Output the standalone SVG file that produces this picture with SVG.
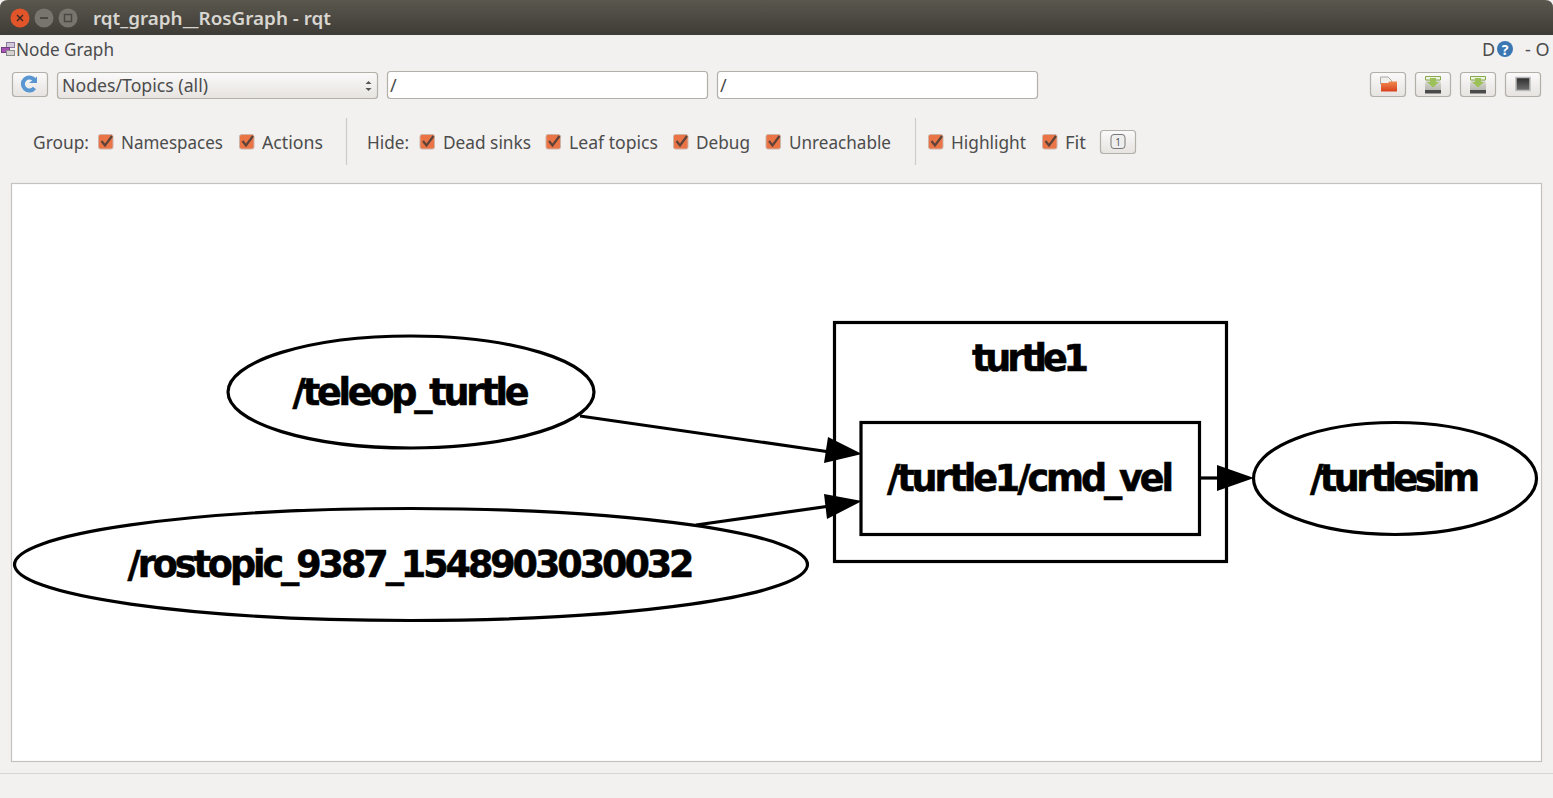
<svg xmlns="http://www.w3.org/2000/svg" width="1553" height="798" viewBox="0 0 1553 798">
<style>
.ui{font-family:"Noto Sans","Open Sans",sans-serif;font-size:18px;fill:#4c4c4c}
.g{font-family:"DejaVu Sans",sans-serif;font-size:36.500px;font-weight:bold;fill:#000;stroke:#000;stroke-width:0.6;text-anchor:middle}
.shape{fill:none;stroke:#000;stroke-width:3.2}
.edge{fill:none;stroke:#000;stroke-width:3.2}
.btn{fill:url(#btnG);stroke:#b3afa9;stroke-width:1.2}
.field{fill:#fff;stroke:#b3afa9;stroke-width:1.2}
.cb{fill:#ea7446;stroke:#cdb5a8;stroke-width:1}
.ck{fill:none;stroke:#5c4238;stroke-width:2.2}
.sep{stroke:#d0cdc8;stroke-width:1.2}
.arrow{fill:#000}
</style>
<defs>
<linearGradient id="title" x1="0" y1="0" x2="0" y2="1"><stop offset="0" stop-color="#5a574e"/><stop offset="1" stop-color="#3e3c36"/></linearGradient>
<linearGradient id="btnG" x1="0" y1="0" x2="0" y2="1"><stop offset="0" stop-color="#fbfafa"/><stop offset="1" stop-color="#e6e3e0"/></linearGradient>
<linearGradient id="drive" x1="0" y1="0" x2="0" y2="1"><stop offset="0" stop-color="#e4e6dc"/><stop offset="1" stop-color="#b4b4ae"/></linearGradient>
<linearGradient id="folder" x1="0" y1="0" x2="0" y2="1"><stop offset="0" stop-color="#f08a50"/><stop offset="1" stop-color="#d8401c"/></linearGradient>
<linearGradient id="screen" x1="0" y1="0" x2="0" y2="1"><stop offset="0" stop-color="#2c2c2c"/><stop offset="1" stop-color="#707070"/></linearGradient>
<g id="cbx"><rect class="cb" x="0" y="0" width="14.500" height="14.500" rx="2"/><path class="ck" d="M3 6.500L6.500 11L13.500 1.500"/></g>
<g id="save"><path d="M0 8L2 1H14L16 8V15H0Z" fill="url(#drive)"/><path d="M.5 .5H15.500V4H.5Z" fill="#eef2e0" stroke="#86aa4c" stroke-width="1"/><path d="M5 2H11V6H14L8 11.500L2 6H5Z" fill="#9cc158"/><rect x="0" y="14" width="16" height="3.500" fill="#4a4a4a"/></g>
</defs>

<rect id="background" width="1553" height="798" fill="#f2f1f0"/>

<g id="titlebar">
<path d="M0 35V8Q0 0 8 0H1545Q1553 0 1553 8V35Z" fill="url(#title)"/>
<circle cx="20" cy="18" r="9.500" fill="#e2552a"/><path d="M17 15L23 21M23 15L17 21" stroke="#3c2a20" stroke-width="1.500"/>
<circle cx="44" cy="18" r="9.500" fill="#77756d"/><rect x="40" y="17" width="8" height="2" fill="#4a4842"/>
<circle cx="68" cy="18" r="9.500" fill="#77756d"/><rect x="64.500" y="14.500" width="7" height="7" fill="none" stroke="#4a4842" stroke-width="1.500"/>
<text x="93" y="25" font-family="Noto Sans, Open Sans, sans-serif" font-size="18" font-weight="600" fill="#d8d6d0" textLength="238" lengthAdjust="spacingAndGlyphs">rqt_graph__RosGraph - rqt</text>
</g>

<g id="menu">
<rect x="6.500" y="42.500" width="8" height="5" fill="#d2c8da" stroke="#8a7aa0" stroke-width="1"/>
<rect x="1.500" y="47.500" width="8" height="5" fill="#a552b0" stroke="#73407f" stroke-width="1"/>
<rect x="6.500" y="50.500" width="8" height="5" fill="#d5d3d0" stroke="#8a8a8a" stroke-width="1"/>
<text class="ui" x="16" y="55.500" textLength="98" lengthAdjust="spacingAndGlyphs">Node Graph</text>
<text class="ui" x="1482" y="55.500">D</text>
<circle cx="1505" cy="49" r="8" fill="#3b78b3"/>
<text x="1505" y="54.500" font-family="Noto Sans, sans-serif" font-size="14" font-weight="bold" fill="#fff" text-anchor="middle">?</text>
<text class="ui" x="1525" y="55.500">- O</text>
</g>

<g id="toolbar">
<rect class="btn" x="12.500" y="72.500" width="35" height="24" rx="3"/>
<path d="M34.500 80A6.500 6.500 0 1 0 34.500 88" fill="none" stroke="#5a96d2" stroke-width="4"/><path d="M29 83L37 76.500V83Z" fill="#5a96d2"/>
<rect class="btn" x="57.500" y="72.500" width="320" height="26" rx="3"/>
<text class="ui" x="62" y="91.500" textLength="146" lengthAdjust="spacingAndGlyphs">Nodes/Topics (all)</text>
<path d="M365.500 84L368.500 81L371.500 84ZM365.500 88L368.500 91L371.500 88Z" fill="#555"/>
<rect class="field" x="387.500" y="71.500" width="320" height="27" rx="3"/>
<text class="ui" x="390" y="91.500">/</text>
<rect class="field" x="717.500" y="71.500" width="320" height="27" rx="3"/>
<text class="ui" x="720" y="91.500">/</text>
<rect class="btn" x="1370.500" y="72.500" width="35" height="24" rx="3"/>
<path d="M1380.500 77H1388L1391.500 80.500V84H1380.500Z" fill="#efefec" stroke="#aaa"/><path d="M1381 83H1388L1389.500 81.500H1397V91.500H1381Z" fill="url(#folder)"/>
<rect class="btn" x="1415.500" y="72.500" width="35" height="24" rx="3"/>
<use href="#save" x="1425" y="76"/>
<rect class="btn" x="1460.500" y="72.500" width="35" height="24" rx="3"/>
<use href="#save" x="1470" y="76"/>
<rect class="btn" x="1505.500" y="72.500" width="35" height="24" rx="3"/>
<rect x="1516" y="77.500" width="14" height="13" fill="url(#screen)" stroke="#bbb" stroke-width="1.500"/>
</g>

<g id="options">
<text class="ui" x="33" y="148.500" textLength="56" lengthAdjust="spacingAndGlyphs">Group:</text>
<use href="#cbx" x="98.500" y="134.500"/>
<text class="ui" x="121" y="148.500" textLength="102" lengthAdjust="spacingAndGlyphs">Namespaces</text>
<use href="#cbx" x="239.500" y="134.500"/>
<text class="ui" x="262" y="148.500" textLength="61" lengthAdjust="spacingAndGlyphs">Actions</text>
<line class="sep" x1="346.500" y1="118" x2="346.500" y2="165"/>
<text class="ui" x="367" y="148.500" textLength="42" lengthAdjust="spacingAndGlyphs">Hide:</text>
<use href="#cbx" x="420" y="134.500"/>
<text class="ui" x="443" y="148.500" textLength="88" lengthAdjust="spacingAndGlyphs">Dead sinks</text>
<use href="#cbx" x="546" y="134.500"/>
<text class="ui" x="569" y="148.500" textLength="89" lengthAdjust="spacingAndGlyphs">Leaf topics</text>
<use href="#cbx" x="673.500" y="134.500"/>
<text class="ui" x="696" y="148.500" textLength="54" lengthAdjust="spacingAndGlyphs">Debug</text>
<use href="#cbx" x="766" y="134.500"/>
<text class="ui" x="789" y="148.500" textLength="102" lengthAdjust="spacingAndGlyphs">Unreachable</text>
<line class="sep" x1="915.500" y1="118" x2="915.500" y2="165"/>
<use href="#cbx" x="928.500" y="134.500"/>
<text class="ui" x="951" y="148.500" textLength="75" lengthAdjust="spacingAndGlyphs">Highlight</text>
<use href="#cbx" x="1042.500" y="134.500"/>
<text class="ui" x="1065" y="148.500" textLength="21" lengthAdjust="spacingAndGlyphs">Fit</text>
<rect class="btn" x="1100.500" y="130.500" width="35" height="23" rx="3"/>
<rect x="1111" y="134.500" width="14" height="14" rx="3" fill="#eee" stroke="#777"/>
<text x="1118" y="146" font-family="Noto Sans, sans-serif" font-size="10" fill="#555" text-anchor="middle">1</text>
</g>

<g id="canvas"><rect x="11.500" y="183.500" width="1530" height="578" fill="#fff" stroke="#c4c2be" stroke-width="1.200"/></g>

<g id="connectors">
<path class="edge" d="M580 416L830 452"/>
<path class="arrow" d="M862 454L824 463L828 437Z"/>
<path class="edge" d="M696 525L830 506"/>
<path class="arrow" d="M862 501L827 519L824 494Z"/>
<path class="edge" d="M1200 478H1220"/>
<path class="arrow" d="M1254 478L1217 491V465Z"/>
</g>

<g id="cluster_turtle1">
<rect class="shape" x="834.500" y="322.500" width="392" height="239"/>
<text class="g" x="1030.500" y="371" textLength="117">turtle1</text>
</g>
<g id="node_cmd_vel">
<rect class="shape" x="861" y="422.500" width="338.500" height="112"/>
<text class="g" x="1030.500" y="491" textLength="287">/turtle1/cmd_vel</text>
</g>
<g id="node_teleop_turtle">
<ellipse class="shape" cx="411" cy="392" rx="183" ry="56"/>
<text class="g" x="411" y="405" textLength="237">/teleop_turtle</text>
</g>
<g id="node_rostopic">
<ellipse class="shape" cx="411" cy="564.500" rx="396.500" ry="56"/>
<text class="g" x="411" y="577" textLength="567">/rostopic_9387_1548903030032</text>
</g>
<g id="node_turtlesim">
<ellipse class="shape" cx="1395" cy="478.500" rx="141.500" ry="56"/>
<text class="g" x="1395" y="491" textLength="170">/turtlesim</text>
</g>
<g id="statusbar"><line x1="0" y1="773.500" x2="1553" y2="773.500" stroke="#d8d6d2" stroke-width="1"/></g>
</svg>
